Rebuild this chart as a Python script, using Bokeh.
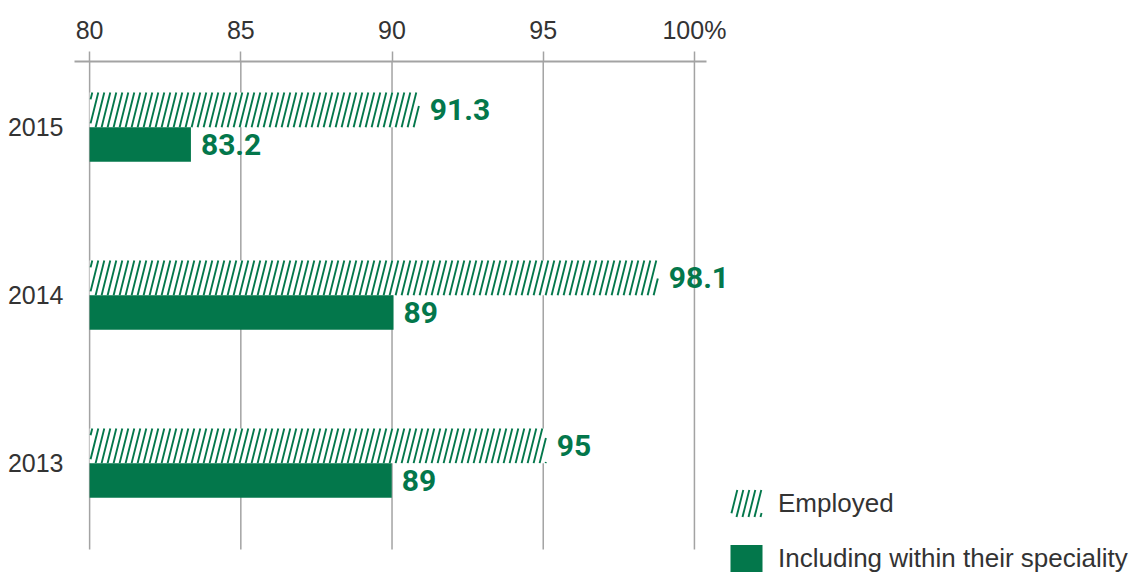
import math
from bokeh.plotting import figure
from bokeh.models import (Range1d, FixedTicker, Legend, LegendItem, ColumnDataSource)
from bokeh.core.properties import value
from bokeh.embed import file_html
from bokeh.resources import INLINE

# ---- data ----
years = ["2015", "2014", "2013"]
employed = [90.92, 98.82, 95.12]            # bar ends as drawn
speciality = [83.35, 90.05, 89.99]          # bar ends as drawn
employed_labels = ["91.3", "98.1", "95"]
speciality_labels = ["83.2", "89", "89"]
x_ticks = [80, 85, 90, 95, 100]
x_tick_labels = ["80", "85", "90", "95", "100%"]
series_names = ["Employed", "Including within their speciality"]
baseline = 80

GREEN = "#03774b"
GRID = "#a3a3a3"
TEXT = "#333333"

# ---- layout ----
W, H = 1130, 573
FRAME_L, FRAME_T = 74, 61
FRAME_W, FRAME_H = W - FRAME_L, H - FRAME_T
X_START, AXIS_END, X_END = 79.5, 100.4, 114.42
Y_TOP, GRID_BOTTOM, Y_START = 2.391, -0.514, -0.657
PX_X = FRAME_W / (X_END - X_START)          # pixels per x unit
PX_Y = FRAME_H / (Y_TOP - Y_START)          # pixels per y unit

# stripe (hatch) look, in pixels
STRIPE_PERIOD = 6.0
STRIPE_SLOPE = 0.25                         # horizontal shift per pixel of height
STRIPE_W = 1.9

# legend geometry, pixels relative to the frame's bottom-left
LEG_X, LEG_Y = 652, -2
GLYPH_W, GLYPH_H, LEG_SPACING = 40, 34, 21

rows = [len(years) - 1 - i for i in range(len(years))]   # 2015 on top
half = 0.103
bar_h = 0.206

src = ColumnDataSource(dict(
    year=years,
    emp=employed, spec=speciality,
    emp_lab=employed_labels, spec_lab=speciality_labels,
    emp_y=[r + half for r in rows],
    spec_y=[r - half for r in rows],
    base=[baseline] * len(years),
))


def stripes(xl, xr, yb, yt, xs0, xs1, ys0, ys1):
    """Slanted '/' stripes filling the data rectangle [xl, xr] x [yb, yt]."""
    period = STRIPE_PERIOD / PX_X
    slant = STRIPE_SLOPE * (yt - yb) * PX_Y / PX_X
    inset = (STRIPE_W / 2) / PX_X
    lo, hi = xl + inset, xr - inset
    k0 = -int(math.ceil(slant / period)) - 1
    k1 = int(math.ceil((xr - xl) / period)) + 1
    for k in range(k0, k1 + 1):
        xb = xl + k * period
        t0 = max(0.0, (lo - xb) / slant)
        t1 = min(1.0, (hi - xb) / slant)
        if t1 <= t0:
            continue
        xs0.append(xb + t0 * slant)
        xs1.append(xb + t1 * slant)
        ys0.append(yb + t0 * (yt - yb))
        ys1.append(yb + t1 * (yt - yb))


p = figure(width=W, height=H, output_backend="svg", toolbar_location=None,
           x_range=Range1d(X_START, X_END), y_range=Range1d(Y_START, Y_TOP),
           x_axis_location="above", min_border_left=FRAME_L, min_border_right=0,
           min_border_top=FRAME_T, min_border_bottom=0)
p.outline_line_color = None
p.background_fill_color = "white"
p.border_fill_color = "white"

# vertical grid lines at the tick values, ending below the last category
p.segment(x0=x_ticks, x1=x_ticks, y0=[GRID_BOTTOM] * len(x_ticks),
          y1=[Y_TOP] * len(x_ticks), line_color=GRID, line_width=1.5)

# "Employed" bars: white body with slanted green stripes
r_emp = p.hbar(y="emp_y", left="base", right="emp", height=bar_h, source=src,
               fill_color="white", line_color=None)
sx0, sx1, sy0, sy1 = [], [], [], []
for v, yc in zip(employed, src.data["emp_y"]):
    stripes(baseline, v, yc - bar_h / 2, yc + bar_h / 2, sx0, sx1, sy0, sy1)

# legend key for the striped series (same geometry as the legend below)
key_l = X_START + (LEG_X + 0.1 * GLYPH_W) / PX_X
key_r = X_START + (LEG_X + 0.9 * GLYPH_W) / PX_X
key_b = Y_START + (LEG_Y + GLYPH_H + LEG_SPACING + 0.1 * GLYPH_H) / PX_Y
key_t = Y_START + (LEG_Y + 2 * GLYPH_H + LEG_SPACING - 0.1 * GLYPH_H) / PX_Y
stripes(key_l, key_r, key_b, key_t, sx0, sx1, sy0, sy1)

p.segment(x0=sx0, x1=sx1, y0=sy0, y1=sy1, line_color=GREEN, line_width=STRIPE_W)

r_spec = p.hbar(y="spec_y", left="base", right="spec", height=bar_h, source=src,
                fill_color=GREEN, line_color=None)

# invisible key renderer for the striped legend entry
r_key = p.hbar(y=[], left=[], right=[], height=bar_h,
               fill_alpha=0, line_color=None)

lab_kw = dict(source=src, x_offset=10, text_baseline="middle", text_align="left",
              text_font=value("Roboto"), text_font_style="bold",
              text_font_size="30px", text_color=GREEN)
p.text(x="emp", y="emp_y", text="emp_lab", **lab_kw)
p.text(x="spec", y="spec_y", text="spec_lab", **lab_kw)

# x axis (top)
xa = p.xaxis[0]
xa.bounds = (X_START, AXIS_END)
xa.ticker = FixedTicker(ticks=x_ticks)
xa.major_label_overrides = {t: l for t, l in zip(x_ticks, x_tick_labels)}
xa.axis_line_color = GRID
xa.axis_line_width = 2
xa.major_tick_line_color = GRID
xa.major_tick_line_width = 1.5
xa.major_tick_out = 10
xa.major_tick_in = 0
xa.minor_tick_line_color = None
xa.major_label_standoff = 8
xa.major_label_text_font = "Liberation Sans"
xa.major_label_text_font_size = "25px"
xa.major_label_text_color = TEXT

# y axis (years)
ya = p.yaxis[0]
ya.ticker = FixedTicker(ticks=rows)
ya.major_label_overrides = {r: y for r, y in zip(rows, years)}
ya.axis_line_color = None
ya.major_tick_line_color = None
ya.minor_tick_line_color = None
ya.major_tick_out = 0
ya.major_tick_in = 0
ya.major_label_standoff = 11
ya.major_label_text_font = "Liberation Sans"
ya.major_label_text_font_size = "25px"
ya.major_label_text_color = TEXT

p.xgrid.visible = False
p.ygrid.visible = False

legend = Legend(items=[LegendItem(label=series_names[0], renderers=[r_key]),
                       LegendItem(label=series_names[1], renderers=[r_spec])],
                location=(LEG_X, LEG_Y), orientation="vertical",
                glyph_width=GLYPH_W, glyph_height=GLYPH_H, label_standoff=12,
                spacing=LEG_SPACING, padding=0, margin=0, border_line_color=None,
                background_fill_alpha=0,
                label_text_font="Liberation Sans", label_text_font_size="26px",
                label_text_color=TEXT)
p.add_layout(legend, "center")

open("out.html", "w").write(file_html(p, INLINE))
